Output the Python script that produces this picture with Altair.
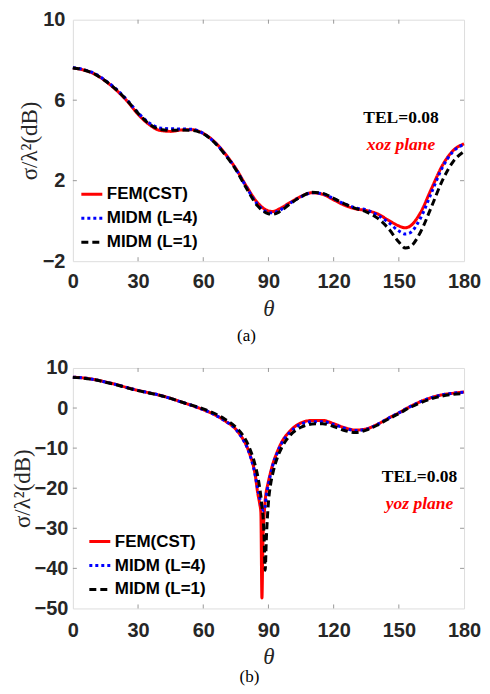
import altair as alt
import pandas as pd

series_names = ["FEM(CST)", "MIDM (L=4)", "MIDM (L=1)"]
series_colors = ["#ff0000", "#0000ff", "#000000"]
series_dash = [[1, 0], [3, 3], [7, 4]]

# ---- panel (a): xoz plane ----
theta_a = [0, 5, 10, 15, 20, 25, 30, 35, 40, 45, 50, 55, 60, 65, 70, 75, 80, 85, 90, 92, 95,
           100, 105, 110, 115, 120, 125, 130, 135, 140, 145, 150, 153, 155, 160, 165, 170, 175, 180]
fem_a = [7.6, 7.5, 7.3, 6.95, 6.5, 5.95, 5.3, 4.8, 4.5, 4.45, 4.52, 4.53, 4.35, 3.95, 3.35, 2.6,
         1.7, 0.9, 0.5, 0.47, 0.6, 0.92, 1.22, 1.4, 1.32, 1.05, 0.78, 0.6, 0.52, 0.36, 0.05, -0.25,
         -0.34, -0.27, 0.42, 1.6, 2.75, 3.5, 3.83]
l4_a = [7.62, 7.52, 7.33, 6.98, 6.55, 6.0, 5.38, 4.88, 4.62, 4.58, 4.57, 4.55, 4.35, 3.93, 3.33,
        2.58, 1.65, 0.82, 0.42, 0.4, 0.52, 0.88, 1.2, 1.4, 1.35, 1.1, 0.85, 0.65, 0.55, 0.3, -0.05,
        -0.5, -0.65, -0.6, 0.15, 1.4, 2.65, 3.45, 3.8]
l1_a = [7.6, 7.5, 7.3, 6.95, 6.52, 5.98, 5.35, 4.83, 4.55, 4.5, 4.52, 4.5, 4.33, 3.92, 3.3, 2.55,
        1.6, 0.75, 0.36, 0.33, 0.45, 0.85, 1.2, 1.42, 1.37, 1.12, 0.85, 0.62, 0.45, 0.15, -0.35,
        -1.05, -1.35, -1.3, -0.55, 0.7, 2.0, 2.95, 3.45]

# ---- panel (b): yoz plane ----
theta_b = [0, 5, 10, 15, 20, 25, 30, 35, 40, 45, 50, 55, 60, 65, 70, 75, 78, 80, 82, 83, 84, 85,
           86, 86.5, 87, 87.5, 88, 88.5, 89, 89.5, 90, 91, 92, 94, 96, 100, 105, 110, 115, 120,
           125, 130, 135, 140, 145, 150, 155, 160, 165, 170, 175, 180]
fem_b = [7.7, 7.5, 7.1, 6.5, 5.85, 5.1, 4.4, 3.8, 3.2, 2.4, 1.5, 0.6, -0.4, -1.6, -3.2, -5.3,
         -7.5, -9.5, -12.5, -14.3, -17, -21, -24, -26, -47.4, -32, -27, -23, -20.8, -19.5, -18.3,
         -16, -14, -11, -8.6, -5.7, -3.7, -3.1, -3.1, -3.9, -4.9, -5.5, -5.2, -4.1, -2.6, -1.2,
         0.3, 1.6, 2.6, 3.3, 3.7, 4.0]
l4_b = [7.7, 7.5, 7.1, 6.5, 5.85, 5.1, 4.4, 3.8, 3.2, 2.4, 1.5, 0.6, -0.4, -1.6, -3.2, -5.3,
        -7.6, -9.6, -12.6, -14.5, -17, -20, -22.5, -23.8, -24.8, -25.4, -25.6, -24.5, -22, -20.3,
        -19, -16.5, -14.3, -11.3, -8.9, -6.0, -4.0, -3.4, -3.4, -4.1, -5.0, -5.6, -5.3, -4.1,
        -2.6, -1.2, 0.3, 1.6, 2.6, 3.3, 3.7, 3.95]
l1_b = [7.65, 7.45, 7.05, 6.45, 5.8, 5.05, 4.35, 3.75, 3.15, 2.4, 1.5, 0.65, -0.2, -1.3, -2.8,
        -4.8, -6.6, -8.4, -11, -12.5, -14.5, -16.8, -20, -22, -24.5, -27, -32, -40.5, -33, -27.5,
        -23.5, -19, -16.3, -12.5, -10, -6.8, -4.8, -4.0, -3.9, -4.6, -5.6, -6.1, -5.5, -4.3,
        -2.8, -1.4, 0.1, 1.3, 2.3, 3.0, 3.4, 3.6]

x_ticks = [0, 30, 60, 90, 120, 150, 180]
y_ticks_a = [-2, 2, 6, 10]
y_ticks_b = [-50, -40, -30, -20, -10, 0, 10]

SANS = "Liberation Sans"
SERIF = "Liberation Serif"
GRAY = "#999999"


def long_df(theta, cols):
    rows = []
    for name, vals in zip(series_names, cols):
        for t, v in zip(theta, vals):
            rows.append({"theta": t, "val": v, "series": name})
    return pd.DataFrame(rows)


def panel(theta, cols, yticks, W, H, plane, tx, ty1, ty2, legx, legy, label, dx,
          xlp, xtp, ylp, ytp, toff):
    df = long_df(theta, cols)
    xs = alt.Scale(domain=[0, 180], nice=False, zero=False)
    ys = alt.Scale(domain=[yticks[0], yticks[-1]], nice=False, zero=False)
    xax = alt.Axis(values=x_ticks, title="θ", ticks=False, domain=False, grid=False,
                   labelFont=SANS, labelFontWeight="bold", labelFontSize=20,
                   labelColor="#262626", labelPadding=xlp, labelFlush=False,
                   labelOverlap=False, titleFont=SERIF, titleFontStyle="italic",
                   titleFontWeight="normal", titleFontSize=23, titleColor="#262626",
                   titlePadding=xtp)
    yax = alt.Axis(values=yticks, title="σ/λ²(dB)", ticks=False, domain=False, grid=False,
                   labelFont=SANS, labelFontWeight="bold", labelFontSize=20,
                   labelColor="#262626", labelPadding=ylp, labelFlush=False,
                   labelOverlap=False, titleFont=SERIF, titleFontWeight="normal",
                   titleFontSize=23, titleColor="#262626", titlePadding=ytp)
    X = alt.X("theta:Q", scale=xs, axis=xax)
    Y = alt.Y("val:Q", scale=ys, axis=yax)
    leg = alt.Legend(orient="none", legendX=legx, legendY=legy, title=None,
                     symbolType="stroke", symbolSize=441, symbolStrokeWidth=3,
                     labelFont=SANS, labelFontWeight="bold", labelFontSize=17,
                     labelColor="#000000", labelOffset=3, rowPadding=4, padding=0,
                     symbolOffset=0, labelLimit=300)
    lines = alt.Chart(df).mark_line(strokeWidth=3, interpolate="monotone").encode(
        x=X, y=Y,
        color=alt.Color("series:N", scale=alt.Scale(domain=series_names, range=series_colors),
                        legend=leg),
        strokeDash=alt.StrokeDash("series:N",
                                  scale=alt.Scale(domain=series_names, range=series_dash),
                                  legend=leg),
    )
    xt = pd.DataFrame({"theta": x_ticks[1:-1]})
    yt = pd.DataFrame({"val": yticks[1:-1]})
    tick_b = alt.Chart(xt).mark_rule(color=GRAY, strokeWidth=1).encode(
        x=X, y=alt.value(H), y2=alt.value(H - 4))
    tick_t = alt.Chart(xt).mark_rule(color=GRAY, strokeWidth=1).encode(
        x=X, y=alt.value(0), y2=alt.value(4))
    tick_l = alt.Chart(yt).mark_rule(color=GRAY, strokeWidth=1).encode(
        y=Y, x=alt.value(0), x2=alt.value(4))
    tick_r = alt.Chart(yt).mark_rule(color=GRAY, strokeWidth=1).encode(
        y=Y, x=alt.value(W), x2=alt.value(W - 4))
    t1 = alt.Chart(pd.DataFrame({"theta": [tx], "val": [ty1], "t": ["TEL=0.08"]})).mark_text(
        font=SERIF, fontWeight="bold", fontSize=17.5, color="#000000").encode(x=X, y=Y, text="t:N")
    t2 = alt.Chart(pd.DataFrame({"theta": [tx], "val": [ty2], "t": [plane]})).mark_text(
        font=SERIF, fontWeight="bold", fontStyle="italic", fontSize=17.5,
        color="#ff0000").encode(x=X, y=Y, text="t:N")
    return alt.layer(tick_b, tick_t, tick_l, tick_r, lines, t1, t2).properties(
        width=W, height=H,
        title=alt.TitleParams(label, orient="bottom", font=SERIF, fontSize=17,
                              fontWeight="normal", color="#000000", offset=toff, dx=dx))


top = panel(theta_a, [fem_a, l4_a, l1_a], y_ticks_a, 392, 242, "xoz plane",
            151, 5.09, 3.75, 7, 163, "(a)", -22, 10, 6, 8, 1, 8)
bot = panel(theta_b, [fem_b, l4_b, l1_b], y_ticks_b, 392, 241, "yoz plane",
            159.5, -17.1, -23.9, 15, 162, "(b)", -19, 12, 5, 5, 0, 1)

chart = alt.concat(top, bot, columns=1, spacing=12).resolve_scale(
    color="independent", strokeDash="independent").resolve_legend(
    color="independent", strokeDash="independent").properties(
    padding={"left": 2, "top": 0, "right": 0, "bottom": 0}
).configure_view(stroke=GRAY, strokeWidth=1).configure(background="white")

chart.save("out.html", embed_options={"renderer": "svg", "actions": False})
